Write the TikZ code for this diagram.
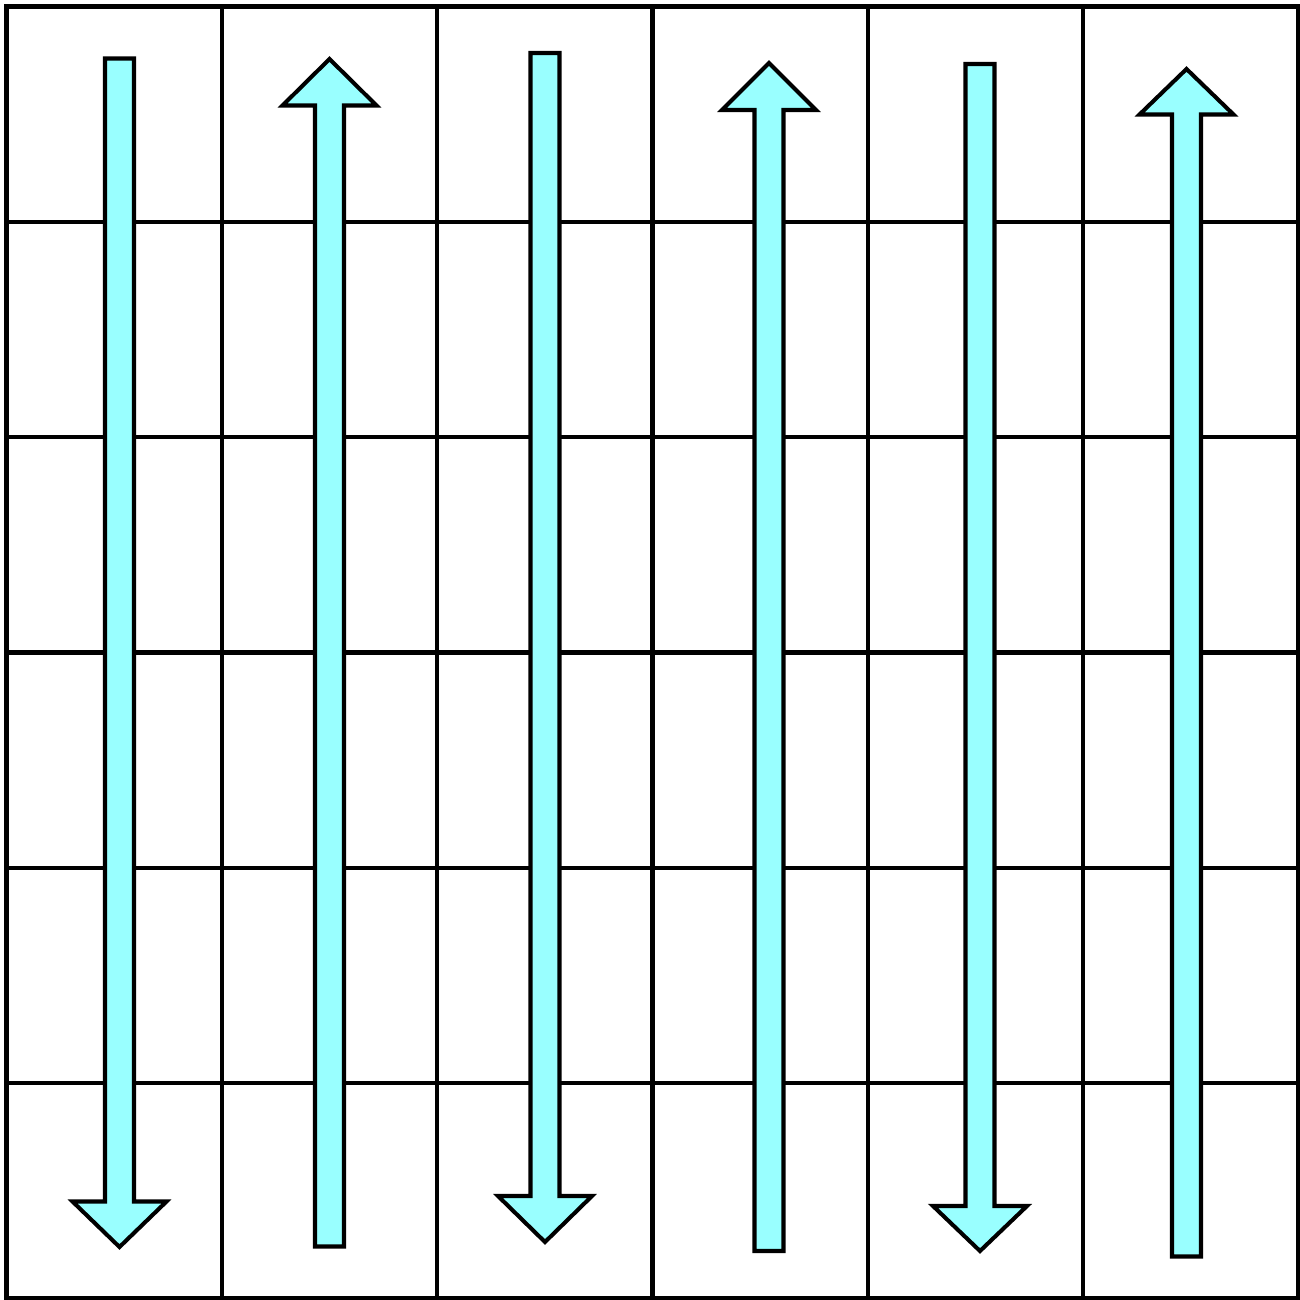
\documentclass[tikz,border=0pt]{standalone}
\usepackage{tikz}
\definecolor{lanecyan}{HTML}{99FFFF}
\tikzset{
  gridline/.style={draw=black, line width=1.15pt, line cap=rect},
  lanearrow/.style={draw=black, fill=lanecyan, line width=1.15pt, line join=miter},
}
% block arrows: centre x, shaft end, head base, tip
\newcommand{\lanedown}[4]{%
  \draw[lanearrow] ({#1-14.5},#2) -- ({#1+14.5},#2) -- ({#1+14.5},#3) -- ({#1+47},#3)
    -- (#1,#4) -- ({#1-47},#3) -- ({#1-14.5},#3) -- cycle;}
\newcommand{\laneup}[4]{%
  \draw[lanearrow] ({#1-14.5},#2) -- ({#1+14.5},#2) -- ({#1+14.5},#3) -- ({#1+47},#3)
    -- (#1,#4) -- ({#1-47},#3) -- ({#1-14.5},#3) -- cycle;}

\begin{document}
\begin{tikzpicture}[x=0.01cm, y=-0.01cm]
  \useasboundingbox (0,0) rectangle (1300,1300);

  % grid 6 x 6
  \foreach \i in {0,...,6} {
    \draw[gridline] ({6.5+215.33*\i},6.5) -- ({6.5+215.33*\i},1298.5);
    \draw[gridline] (6.5,{6.5+215.33*\i}) -- (1298.5,{6.5+215.33*\i});
  }

  % lanes
  \lanedown{119.5}{58.5}{1201.5}{1247}
  \laneup{329.5}{1246.5}{105.5}{59}
  \lanedown{545}{53}{1196}{1242}
  \laneup{769}{1251}{110}{63}
  \lanedown{980}{64}{1206}{1251}
  \laneup{1186.5}{1256.5}{114.5}{69}
\end{tikzpicture}
\end{document}
